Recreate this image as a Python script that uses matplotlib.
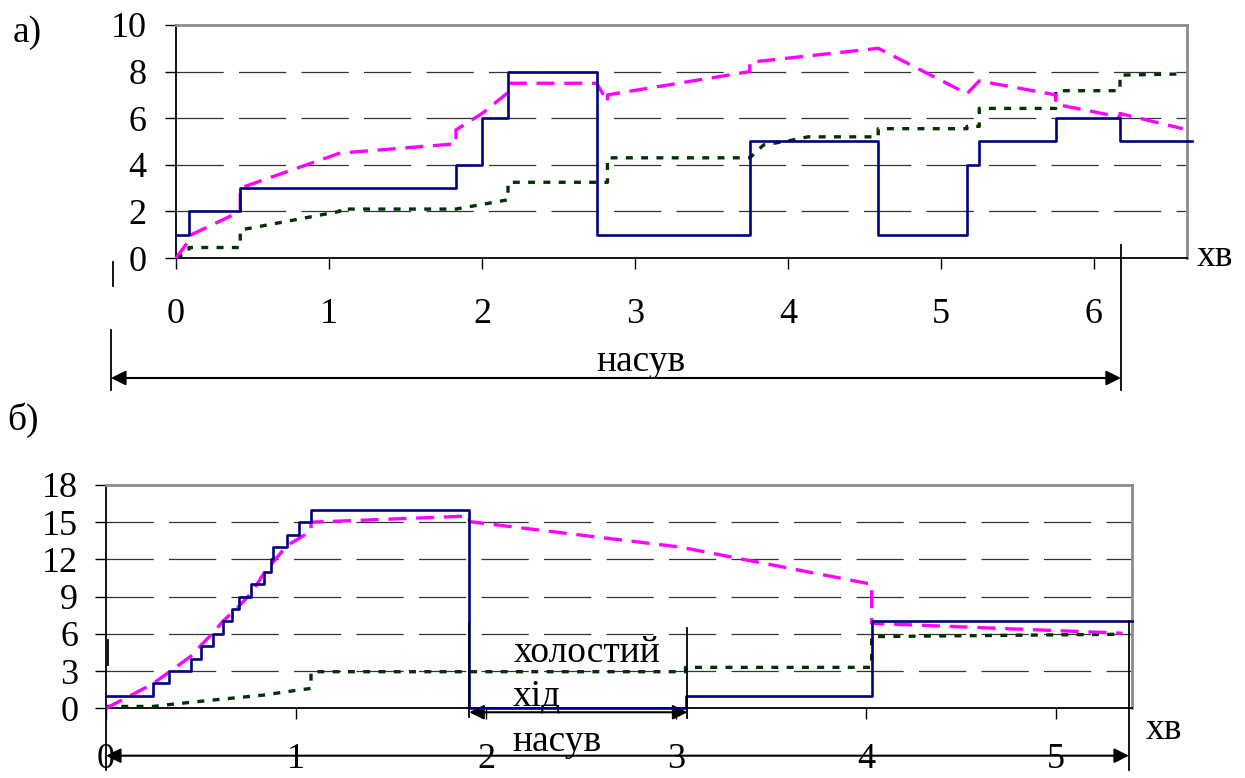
import matplotlib
matplotlib.use("Agg")
import matplotlib.pyplot as plt

plt.rcParams['font.family'] = ['Liberation Serif', 'DejaVu Serif']
plt.rcParams['lines.scale_dashes'] = False

# ---- data: panel a) ----
a_blue_t = [0, 0.085, 0.42, 1.83, 2.0, 2.17, 2.75, 3.75, 4.59, 5.17, 5.25, 5.75, 6.17, 6.64]
a_blue_v = [1, 2, 3, 4, 6, 8, 1, 5, 1, 4, 5, 6, 5, 5]

a_mag_t = [0, 0.085, 0.085, 0.42, 0.42, 1.07, 1.83, 1.83, 2.0, 2.17, 2.17, 2.75, 2.82, 2.82,
           3.75, 3.75, 4.59, 5.17, 5.25, 5.75, 5.75, 6.17, 6.17, 6.58]
a_mag_v = [0, 0.75, 0.95, 2.0, 3.0, 4.5, 4.9, 5.5, 6.2, 7.1, 7.5, 7.5, 6.7, 7.0,
           8.0, 8.4, 9.0, 7.05, 7.6, 7.0, 6.6, 6.05, 6.2, 5.55]

a_grn_t = [0, 0.085, 0.085, 0.42, 0.42, 1.07, 1.07, 1.83, 2.0, 2.17, 2.17, 2.82, 2.82, 3.75,
           3.84, 4.03, 4.13, 4.59, 4.59, 5.17, 5.17, 5.25, 5.25, 5.75, 5.75, 6.17, 6.17, 6.58]
a_grn_v = [0, 0.3, 0.45, 0.45, 1.2, 2.0, 2.1, 2.1, 2.3, 2.5, 3.25, 3.25, 4.3, 4.3,
           4.85, 5.06, 5.2, 5.2, 5.55, 5.55, 5.65, 5.65, 6.42, 6.42, 7.18, 7.18, 7.85, 7.9]

a_xticks = [0, 1, 2, 3, 4, 5, 6]
a_yticks = [0, 2, 4, 6, 8, 10]

# ---- data: panel б) ----
b_blue_t = [0, 0.249, 0.332, 0.447, 0.498, 0.565, 0.614, 0.665, 0.698, 0.765, 0.832, 0.867,
            0.881, 0.951, 1.016, 1.079, 1.912, 3.05, 4.03, 5.4]
b_blue_v = [1, 2, 3, 4, 5, 6, 7, 8, 9, 10, 11, 12, 13, 14, 15, 16, 0, 1, 7, 7]

b_mag_t = [0, 0.126, 0.249, 0.447, 0.498, 0.565, 0.614, 0.698, 0.765, 0.832, 0.881, 0.951,
           1.016, 1.079, 1.079, 1.912, 1.912, 3.02, 4.03, 4.03, 5.35]
b_mag_v = [0, 1.0, 2.0, 4.2, 5.05, 6.1, 7.0, 8.2, 9.3, 10.9, 11.8, 13.1,
           13.7, 14.3, 15.0, 15.5, 15.05, 13.0, 10.0, 6.85, 6.05]

b_grn_t = [0, 0.249, 0.332, 0.565, 0.832, 1.016, 1.079, 1.079, 3.05, 3.05, 4.03, 4.03, 5.35]
b_grn_v = [0.15, 0.15, 0.3, 0.67, 1.07, 1.48, 1.6, 2.95, 2.95, 3.3, 3.3, 5.78, 5.97]

b_xticks = [0, 1, 2, 3, 4, 5]
b_yticks = [0, 3, 6, 9, 12, 15, 18]

BLUE = '#000080'
MAG = '#ff00ff'
GRN = '#003300'
FS_NUM = 26
FS_TXT = 27

fig = plt.figure(figsize=(12.45, 7.78), dpi=100)


def style_axes(ax, xmax, ymax, xticks, yticks, xpad, ypad):
    ax.set_xlim(0, xmax)
    ax.set_ylim(0, ymax)
    ax.set_xticks(xticks)
    ax.set_yticks(yticks)
    ax.set_xticklabels([str(v) for v in xticks], fontsize=FS_NUM)
    ax.set_yticklabels([str(v) for v in yticks], fontsize=FS_NUM)
    ax.tick_params(axis='x', direction='out', length=8, width=1, pad=xpad)
    ax.tick_params(axis='y', direction='out', length=8, width=1, pad=ypad)
    for s in ['left', 'bottom']:
        ax.spines[s].set_color('black')
        ax.spines[s].set_linewidth(1.3)
    for s in ['top', 'right']:
        ax.spines[s].set_color('#8c8c8c')
        ax.spines[s].set_linewidth(2)
    ax.set_axisbelow(True)
    ax.yaxis.grid(True, linestyle=(0, (34, 11)), color='#333333', lw=0.9)
    gl = ax.get_ygridlines()
    gl[0].set_visible(False)
    gl[-1].set_visible(False)


def draw_series(ax, bt, bv, mt, mv, gt, gv):
    ax.plot(gt, gv, color=GRN, lw=2.4, linestyle=(0, (5, 6)), clip_on=False, zorder=3)
    ax.plot(mt, mv, color=MAG, lw=2.4, linestyle=(0, (13, 7)), clip_on=False, zorder=4)
    ax.step(bt, bv, where='post', color=BLUE, lw=1.9, clip_on=False, zorder=5)


def vline(ax, x, y0, y1):
    ax.plot([x, x], [y0, y1], color='black', lw=1.3, clip_on=False, zorder=6)


def darrow(ax, x0, x1, y):
    ax.annotate('', xy=(x1, y), xytext=(x0, y), annotation_clip=False,
                arrowprops=dict(arrowstyle='<|-|>', color='black', lw=1.5,
                                mutation_scale=22, shrinkA=0, shrinkB=0))


# ---- panel a) ----
ax1 = fig.add_axes([0.14137, 0.66838, 0.81205, 0.29949])
style_axes(ax1, 6.608, 10, a_xticks, a_yticks, 21, 13)
draw_series(ax1, a_blue_t, a_blue_v, a_mag_t, a_mag_v, a_grn_t, a_grn_v)
vline(ax1, -0.41, -0.17, -1.2)
vline(ax1, -0.425, -3.09, -5.67)
vline(ax1, 6.176, 0.56, -5.67)
darrow(ax1, -0.425, 6.176, -5.15)
ax1.text(3.04, -4.46, 'насув', fontsize=FS_TXT, ha='center', va='center')
ax1.text(6.79, 0.04, 'хв', fontsize=FS_TXT, ha='center', va='center')

# ---- panel б) ----
ax2 = fig.add_axes([0.08514, 0.08959, 0.82410, 0.28702])
style_axes(ax2, 5.4, 18, b_xticks, b_yticks, 17, 12)
draw_series(ax2, b_blue_t, b_blue_v, b_mag_t, b_mag_v, b_grn_t, b_grn_v)
vline(ax2, 0.01, 5.5, 3.5)
vline(ax2, 0.0, 0.0, -4.96)
vline(ax2, 1.912, 6.9, -0.7)
vline(ax2, 3.06, 6.5, -0.8)
vline(ax2, 5.384, 7.0, -4.96)
darrow(ax2, 1.912, 3.06, -0.32)
darrow(ax2, 0.0, 5.384, -3.82)
ax2.text(2.53, 4.46, 'холостий', fontsize=FS_TXT, ha='center', va='center')
ax2.text(2.14, 0.94, 'хід', fontsize=FS_TXT, ha='left', va='center')
ax2.text(2.14, -2.7, 'насув', fontsize=FS_TXT, ha='left', va='center')
ax2.text(5.57, -1.75, 'хв', fontsize=FS_TXT, ha='center', va='center')

fig.text(27 / 1245, 1 - 33 / 778, 'а)', fontsize=FS_TXT, ha='center', va='center')
fig.text(23 / 1245, 1 - 420 / 778, 'б)', fontsize=FS_TXT, ha='center', va='center')

fig.savefig('out.png', dpi=100)
